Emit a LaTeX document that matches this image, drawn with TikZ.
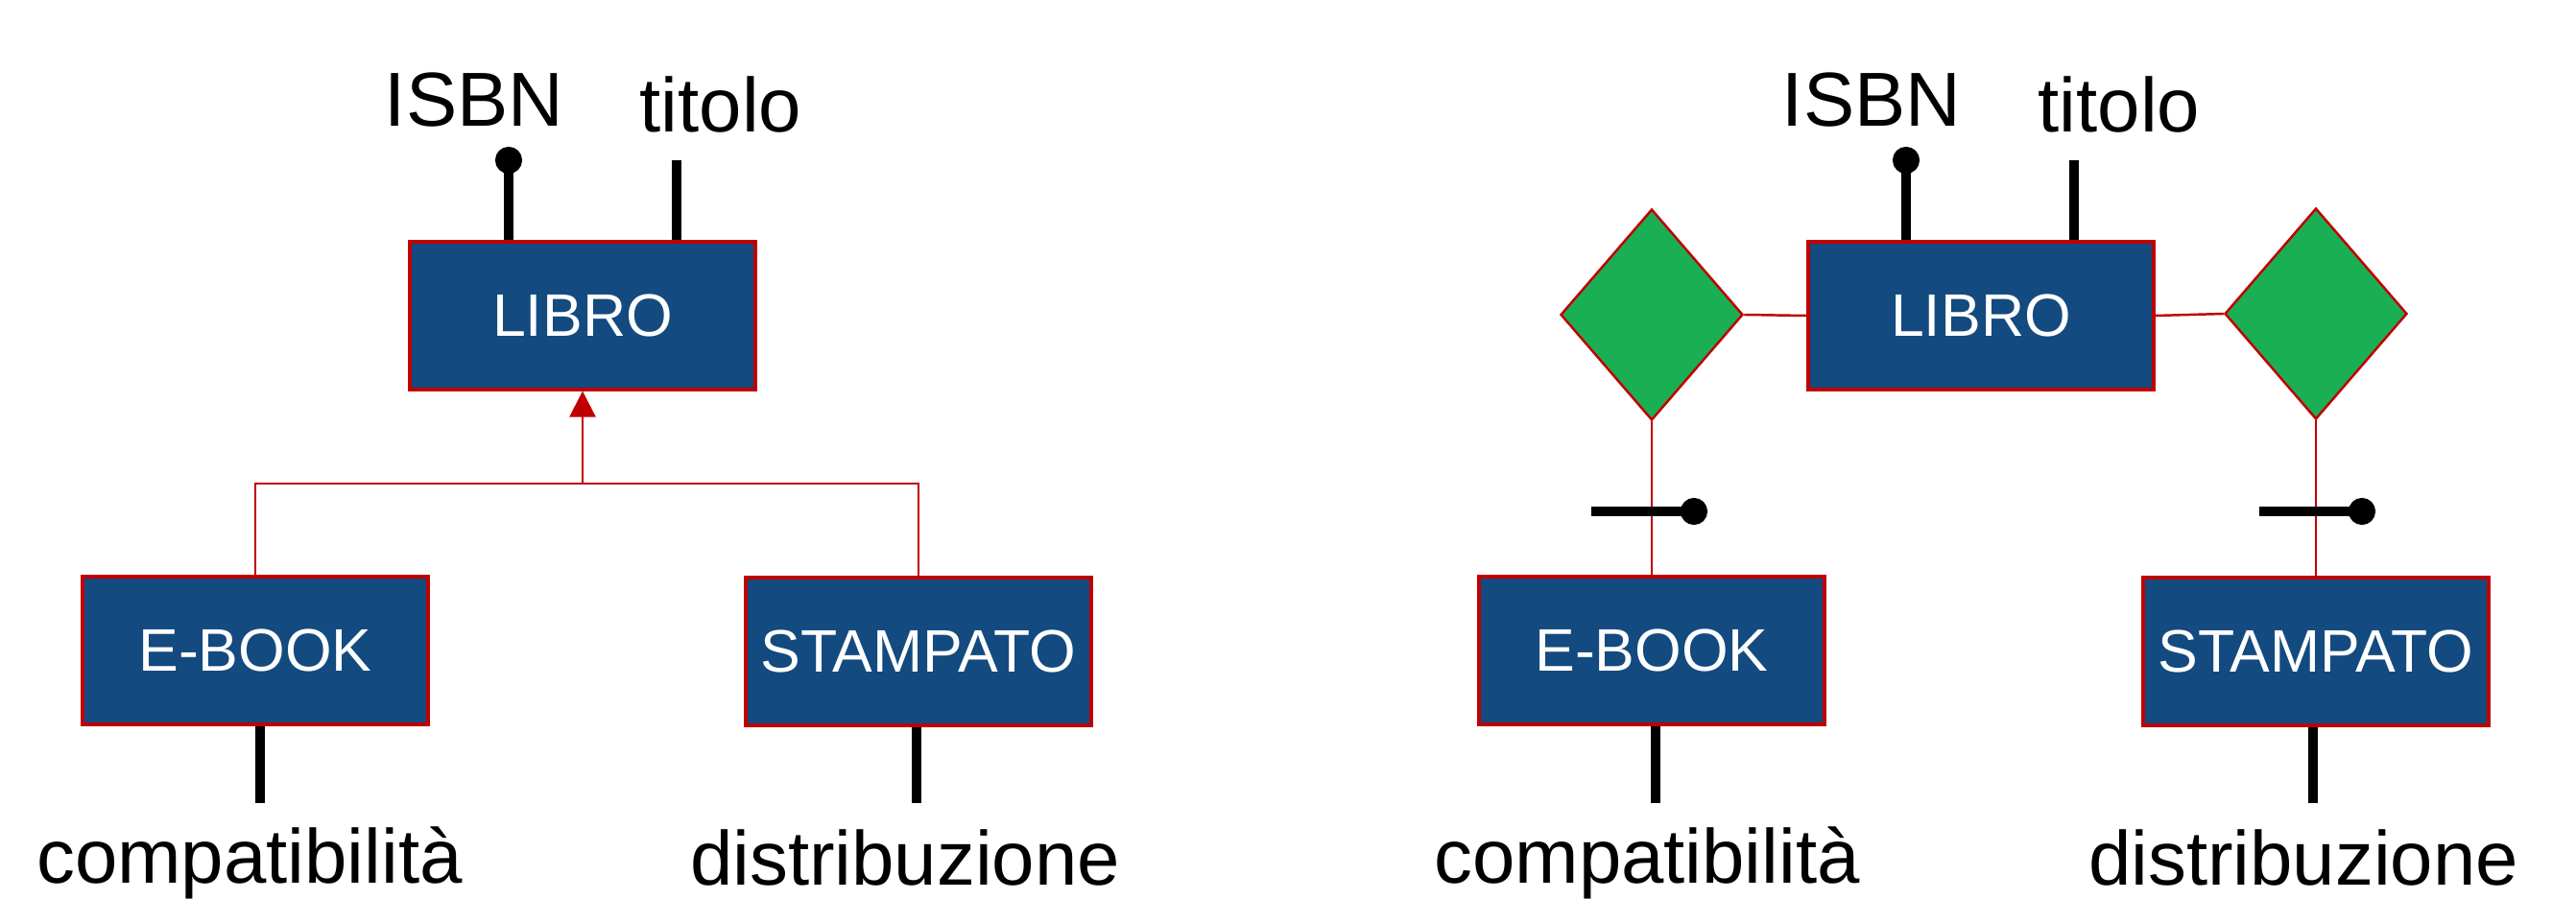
\documentclass[tikz,border=0pt]{standalone}
\usepackage{fontspec}
\setmainfont{Liberation Sans}
\usetikzlibrary{arrows.meta, shapes.geometric}
\definecolor{erblue}{HTML}{134A7F}
\definecolor{erred}{HTML}{C00000}
\definecolor{ergreen}{HTML}{1BAF55}

\begin{document}
\begin{tikzpicture}[
      entity/.style={rectangle, draw=erred, fill=erblue, text=white, line width=0.9pt, minimum width=3.6cm, minimum height=1.54cm, inner sep=0pt, font=\fontsize{17.8}{21}\selectfont},
      relation/.style={diamond, draw=erred, fill=ergreen, line width=0.7pt, minimum width=1.9cm, minimum height=2.2cm, inner sep=0pt},
      attrname/.style={anchor=base, inner sep=0pt, font=\fontsize{22.7}{26}\selectfont},
      attr/.style={line width=2.6pt, black},
      keyattr/.style={attr, -{Circle[length=2.8mm, width=2.8mm]}},
      link/.style={erred, line width=0.7pt},
      isa/.style={link, -{Triangle[length=2.7mm, width=2.7mm]}},
    ]
    \useasboundingbox (0,0) rectangle (26.84,-9.62);

    % left: generalization
    \node[entity] (libroA) at (6.07,-3.29) {LIBRO};
    \node[entity] (ebookA) at (2.66,-6.78) {E-BOOK};
    \node[entity] (stampatoA) at (9.57,-6.79) {STAMPATO};

    \coordinate (joinA) at (6.07,-5.04);
    \draw[isa] (joinA) -- (libroA.south);
    \draw[link] (ebookA.north) |- (joinA) -| (stampatoA.north);

    \coordinate (isbnEndA) at (5.30,-1.53);
    \coordinate (titoloEndA) at (7.05,-1.67);
    \coordinate (compEndA) at (2.71,-8.37);
    \coordinate (distEndA) at (9.55,-8.37);
    \draw[keyattr] (libroA.north -| isbnEndA) -- (isbnEndA);
    \draw[attr] (libroA.north -| titoloEndA) -- (titoloEndA);
    \draw[attr] (ebookA.south -| compEndA) -- (compEndA);
    \draw[attr] (stampatoA.south -| distEndA) -- (distEndA);

    \node[attrname] (isbnA) at (4.94,-1.32) {ISBN};
    \node[attrname] (titoloA) at (7.51,-1.38) {titolo};
    \node[attrname] (compA) at (2.60,-9.20) {compatibilità};
    \node[attrname] (distA) at (9.43,-9.23) {distribuzione};

    % right: relationships
    \node[entity] (libroB) at (20.64,-3.29) {LIBRO};
    \node[relation] (relA) at (17.21,-3.28) {};
    \node[relation] (relB) at (24.13,-3.27) {};
    \node[entity] (ebookB) at (17.21,-6.78) {E-BOOK};
    \node[entity] (stampatoB) at (24.13,-6.79) {STAMPATO};

    \draw[link] (relA.east) -- (libroB.west);
    \draw[link] (libroB.east) -- (relB.west);
    \draw[link] (relA.south) -- (ebookB.north);
    \draw[link] (relB.south) -- (stampatoB.north);

    \coordinate (barStartA) at (16.58,-5.33);
    \coordinate (barEndA) at (17.79,-5.33);
    \coordinate (barStartB) at (23.54,-5.33);
    \coordinate (barEndB) at (24.75,-5.33);
    \draw[keyattr] (barStartA) -- (barEndA);
    \draw[keyattr] (barStartB) -- (barEndB);

    \coordinate (isbnEndB) at (19.86,-1.53);
    \coordinate (titoloEndB) at (21.61,-1.67);
    \coordinate (compEndB) at (17.25,-8.37);
    \coordinate (distEndB) at (24.10,-8.37);
    \draw[keyattr] (libroB.north -| isbnEndB) -- (isbnEndB);
    \draw[attr] (libroB.north -| titoloEndB) -- (titoloEndB);
    \draw[attr] (ebookB.south -| compEndB) -- (compEndB);
    \draw[attr] (stampatoB.south -| distEndB) -- (distEndB);

    \node[attrname] (isbnB) at (19.50,-1.32) {ISBN};
    \node[attrname] (titoloB) at (22.08,-1.38) {titolo};
    \node[attrname] (compB) at (17.16,-9.20) {compatibilità};
    \node[attrname] (distB) at (24.00,-9.23) {distribuzione};
  \end{tikzpicture}
\end{document}
